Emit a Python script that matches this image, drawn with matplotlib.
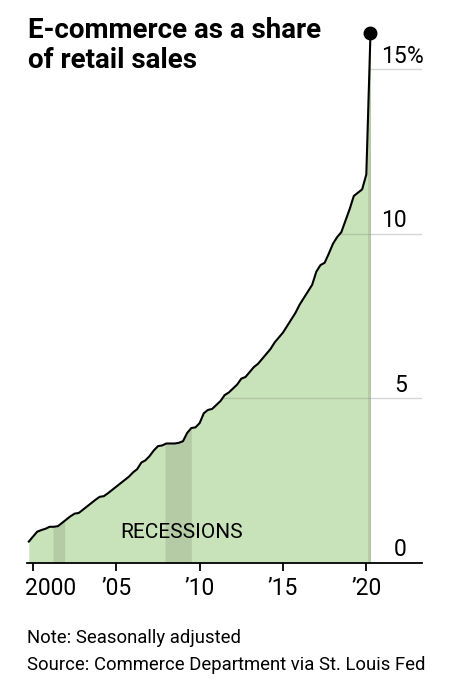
import matplotlib
matplotlib.use('Agg')
import matplotlib.pyplot as plt
import matplotlib.transforms as mtransforms
import numpy as np

plt.rcParams['font.family'] = ['Roboto', 'DejaVu Sans']

# quarterly e-commerce share of retail sales (%), 1999Q4 .. 2020Q2
start_year = 1999.75
share = [0.65,
         0.80, 0.95, 1.00, 1.04,
         1.10, 1.10, 1.12, 1.22,
         1.32, 1.42, 1.50, 1.52,
         1.62, 1.72, 1.82, 1.92,
         2.01, 2.03, 2.12, 2.22,
         2.32, 2.42, 2.52, 2.62,
         2.75, 2.85, 3.05, 3.12,
         3.25, 3.42, 3.55, 3.57,
         3.63, 3.63, 3.63, 3.65,
         3.70, 3.95, 4.10, 4.12,
         4.25, 4.55, 4.65, 4.68,
         4.80, 4.92, 5.10, 5.18,
         5.30, 5.42, 5.60, 5.65,
         5.80, 5.95, 6.05, 6.20,
         6.35, 6.50, 6.70, 6.85,
         7.00, 7.20, 7.40, 7.60,
         7.85, 8.05, 8.25, 8.45,
         8.85, 9.05, 9.12, 9.40,
         9.70, 9.90, 10.05, 10.40,
         10.75, 11.15, 11.25, 11.35,
         11.80, 16.10]

# recessions (start, end) in decimal years
recessions = [(2001.2, 2001.9), (2007.92, 2009.5), (2020.08, 2020.25)]

xtick_years = [2000, 2005, 2010, 2015, 2020]
xtick_labels = ['2000', '\u201905', '\u201910', '\u201915', '\u201920']
ygrid = [0, 5, 10, 15]
ylabels = ['0', '5', '10', '15']

area_color = '#c8e3b9'
rec_color = '#b4cba6'

x = start_year + np.arange(len(share)) / 4.0
y = np.array(share)

fig = plt.figure(figsize=(4.52, 6.88), dpi=100)
ax = fig.add_axes([0.0597, 0.1817, 0.8739, 0.8134])
ax.set_xlim(1999.64, 2023.34)
ax.set_ylim(0, 17)

ax.fill_between(x, 0, y, color=area_color, lw=0, zorder=1)
# recession bars, only under the line
for a, b in recessions:
    xs = np.linspace(a, b, 60)
    ax.fill_between(xs, 0, np.interp(xs, x, y), color=rec_color, lw=0, zorder=1.5)
ax.hlines(ygrid[1:], x[0], ax.get_xlim()[1], color='#8a8a8a', alpha=0.35, lw=1, zorder=2)
# white above the line hides the grid there
ax.fill_between(x, y, 30, color='white', lw=0, zorder=3)
ax.plot(x, y, color='black', lw=1.5, zorder=4, solid_joinstyle='round')
ax.plot(x[-1], y[-1], 'o', color='black', ms=9, zorder=5, clip_on=False)

# right-hand value labels
lab_x = 2022.44
for v, s in zip(ygrid, ylabels):
    ax.text(lab_x, v + 0.2, s, ha='right', va='baseline', fontsize=16.5, zorder=6)
ax.text(lab_x, 15.2, '%', ha='left', va='baseline', fontsize=16.5, zorder=6)

ax.text(2005.22, 0.75, 'RECESSIONS', ha='left', va='baseline', fontsize=15, zorder=6)

for s in ['top', 'right', 'left']:
    ax.spines[s].set_visible(False)
ax.spines['bottom'].set_linewidth(1.3)
ax.spines['bottom'].set_zorder(7)
ax.set_yticks([])
ax.set_xticks(xtick_years)
ax.set_xticklabels(xtick_labels, fontsize=16.5)
ax.tick_params(axis='x', length=6, width=1.3, pad=4)

# first label sits mostly right of its tick
first = ax.get_xticklabels()[0]
first.set_horizontalalignment('left')
first.set_transform(first.get_transform() +
                    mtransforms.ScaledTranslation(-8 / 100, 0, fig.dpi_scale_trans))

fig.text(28 / 452, 1 - 38 / 688, 'E-commerce as a share', fontsize=20,
         weight='bold', va='baseline')
fig.text(28 / 452, 1 - 68 / 688, 'of retail sales', fontsize=20,
         weight='bold', va='baseline')

fig.text(27 / 452, 1 - 643 / 688, 'Note: Seasonally adjusted', fontsize=13.3, va='baseline')
fig.text(27 / 452, 1 - 670 / 688, 'Source: Commerce Department via St. Louis Fed',
         fontsize=13.3, va='baseline')

fig.savefig('out.png', dpi=100)
